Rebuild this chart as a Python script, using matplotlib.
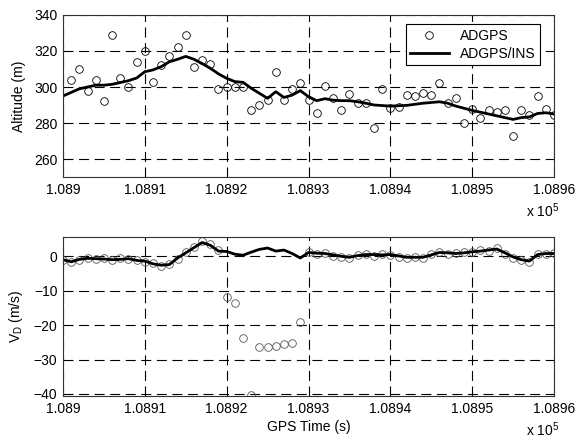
import matplotlib
matplotlib.use("Agg")
import matplotlib.pyplot as plt
import numpy as np

plt.rcParams['font.family'] = ['Liberation Sans', 'DejaVu Sans']
plt.rcParams['mathtext.fontset'] = 'custom'
plt.rcParams['mathtext.rm'] = 'Liberation Sans'
plt.rcParams['mathtext.it'] = 'Liberation Sans:italic'
plt.rcParams['mathtext.bf'] = 'Liberation Sans:bold'

# time offsets (s) from 1.089e5
t_base = 108900
t_gps = list(range(1, 61))
alt_gps = [304, 310, 298, 304, 292, 329, 305, 300, 314, 320,
           303, 312, 317, 322, 329, 311, 315, 313, 299, 300,
           300, 300, 287.5, 290, 293, 308.6, 293, 299, 302, 293,
           285.3, 300.6, 294, 287.5, 296, 291, 291, 277, 298.7, 288.6,
           289, 295.5, 295, 296.8, 295.5, 302, 291, 294, 280, 288,
           283, 287, 286, 287.5, 273, 287, 284.4, 295, 288, 284.4]

t_ins = list(range(0, 61))
alt_ins = [295, 297, 299, 300, 301, 301, 301.5, 302.5, 303.5, 305,
           308.5, 309.5, 311.3, 314, 315.4, 317, 315.4, 313, 310.4, 307.3,
           304.8, 303, 302.6, 299.3, 296.5, 293.7, 297.4, 294.2, 295.5, 298,
           294.6, 292.4, 293.5, 292.7, 292.4, 292.4, 291.8, 291, 290, 289.7,
           289.4, 289.6, 289.8, 290.4, 291, 291.4, 291.8, 291, 289.4, 288.2,
           287, 286, 285, 284, 283, 282, 283, 283.4, 285.3, 285.7, 285]

vd_ins = [-1, -1.6, -0.9, -0.6, -0.7, -0.8, -1, -0.9, -0.7, -1.2,
          -1.4, -2.2, -2.6, -2.4, -0.5, 1.0, 2.5, 4.0, 3.2, 1.5,
          1.4, 0.6, 0.3, 1.2, 2.0, 2.4, 1.5, 1.8, 0.8, -0.5,
          1.1, 0.9, 0.8, 0.4, 0.0, -0.3, 0.2, 0.5, 0.5, 0.4,
          0.5, 0.1, -0.3, -0.3, -0.3, 0.4, 1.1, 1.0, 0.8, 1.0,
          1.3, 1.5, 1.8, 2.1, 1.0, -0.2, -1.0, -1.4, 0.5, 0.8, 0.8]

t_vd_gps = list(range(0, 61))
vd_gps = [-1.2, -1.8, -1.0, -0.4, -0.9, -0.6, -1.2, -0.6, -0.9, -1.0,
          -1.6, -2.0, -2.8, -2.2, -0.8, 1.3, 2.8, 4.3, 3.5, 1.8,
          -11.9, -13.5, -23.6, -40.4, -26.4, -26.4, -26.0, -25.6, -25.2, -19.0,
          1.3, 0.6, 1.0, 0.2, -0.3, -0.5, 0.4, 0.7, 0.2, 0.6,
          0.3, -0.2, -0.5, -0.1, -0.5, 0.7, 1.3, 0.8, 1.0, 1.2,
          1.1, 1.7, 1.6, 2.4, 0.7, -0.5, -1.2, -1.6, 0.8, 0.6, 0.9]

xticks = [108900, 108910, 108920, 108930, 108940, 108950, 108960]
xticklabels = ['1.089', '1.0891', '1.0892', '1.0893', '1.0894', '1.0895', '1.0896']
alt_ticks = [260, 280, 300, 320, 340]
vd_ticks = [0, -10, -20, -30, -40]

fig = plt.figure(figsize=(5.76, 4.41), dpi=100)
ax1 = fig.add_axes([0.1094, 0.5986, 0.8524, 0.3674])
ax2 = fig.add_axes([0.1094, 0.102, 0.8524, 0.3606])

grid_kw = dict(color='black', linewidth=0.8, linestyle=(0, (9, 5)))

def style(ax):
    ax.set_xlim(108900, 108960)
    ax.set_xticks(xticks)
    ax.set_xticklabels(xticklabels)
    ax.tick_params(direction='in', length=3, labelsize=10, width=0.6, pad=4)
    ax.grid(True, **grid_kw)
    for s in ax.spines.values():
        s.set_linewidth(0.8)
        s.set_color('#333333')
    ax.annotate(r'x 10$^5$', xy=(1.0, 0.0), xycoords='axes fraction',
                xytext=(4, -28.5), textcoords='offset points',
                ha='right', va='baseline', fontsize=10)

tg = np.array(t_gps) + t_base
ti = np.array(t_ins) + t_base
tv = np.array(t_vd_gps) + t_base

ax1.plot(tg, alt_gps, linestyle='none', marker='o', markersize=5.5,
         markerfacecolor='none', markeredgecolor='black', markeredgewidth=0.6, label='ADGPS')
ax1.plot(ti, alt_ins, color='black', linewidth=2.0, label='ADGPS/INS')
ax1.set_ylim(250, 340)
ax1.set_yticks(alt_ticks)
ax1.set_ylabel('Altitude (m)', fontsize=10, labelpad=6)
style(ax1)
leg = ax1.legend(loc='upper right', fontsize=10, frameon=True, fancybox=False,
                 edgecolor='black', framealpha=1, borderpad=0.3, handlelength=2.8,
                 labelspacing=0.3, bbox_to_anchor=(0.985, 0.985))
leg.get_frame().set_linewidth(0.8)

ax2.plot(tv, vd_gps, linestyle='none', marker='o', markersize=5.5,
         markerfacecolor='none', markeredgecolor='#555555', markeredgewidth=0.6)
ax2.plot(ti, vd_ins, color='black', linewidth=2.0)
ax2.set_ylim(-40.6, 5.6)
ax2.set_yticks(vd_ticks)
ax2.set_ylabel(r'V$_\mathregular{D}$ (m/s)', fontsize=10, labelpad=6)
ax2.set_xlabel('GPS Time (s)', fontsize=10, labelpad=3)
style(ax2)

fig.savefig('out.png', dpi=100)
